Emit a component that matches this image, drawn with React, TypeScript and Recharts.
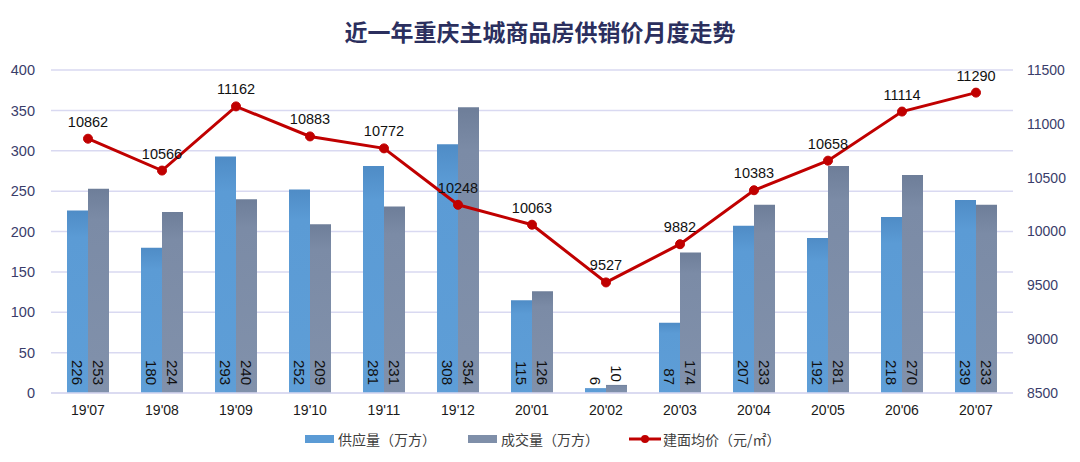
import React from "react";
import {
  ComposedChart,
  Bar,
  Line,
  XAxis,
  YAxis,
  CartesianGrid,
  LabelList,
  Legend,
} from "recharts";

const months = ["19'07", "19'08", "19'09", "19'10", "19'11", "19'12", "20'01", "20'02", "20'03", "20'04", "20'05", "20'06", "20'07"];
const supply = [226, 180, 293, 252, 281, 308, 115, 6, 87, 207, 192, 218, 239];
const sales = [253, 224, 240, 209, 231, 354, 126, 10, 174, 233, 281, 270, 233];
const price = [10862, 10566, 11162, 10883, 10772, 10248, 10063, 9527, 9882, 10383, 10658, 11114, 11290];

const leftTicks = [0, 50, 100, 150, 200, 250, 300, 350, 400];
const rightTicks = [8500, 9000, 9500, 10000, 10500, 11000, 11500];

const data = months.map((m, i) => ({
  month: m,
  supply: supply[i],
  sales: sales[i],
  price: price[i],
}));

const FONT = "'Liberation Sans', Arial, sans-serif";
const CJK = "'Noto Sans CJK SC', 'Liberation Sans', sans-serif";

// vertical label at the bottom of each bar (reads top to bottom); goes above tiny bars
const BarValueLabel = (props: any) => {
  const { x, y, width, height, value } = props;
  const cx = x + width / 2;
  const top = Math.min(y, y + height);
  const bottom = Math.max(y, y + height);
  const textLen = String(value).length * 8.4;
  const end = bottom - top < textLen + 12 ? top - 3 : bottom - 8;
  return (
    <text
      x={cx}
      y={end}
      transform={`rotate(90, ${cx}, ${end})`}
      textAnchor="end"
      dominantBaseline="central"
      fontSize={15}
      fontFamily={FONT}
      fill="#111"
    >
      {value}
    </text>
  );
};

const LegendContent = () => (
  <div
    style={{
      height: 39,
      display: "flex",
      alignItems: "center",
      paddingLeft: 305,
      paddingBottom: 8,
      boxSizing: "border-box",
      fontFamily: CJK,
      fontSize: 14,
      color: "#404040",
    }}
  >
    <span style={{ display: "inline-block", width: 29, height: 8, background: "#5B9BD5", marginRight: 4 }} />
    <span style={{ marginRight: 32 }}>供应量（万方）</span>
    <span style={{ display: "inline-block", width: 29, height: 8, background: "#7F8FA9", marginRight: 4 }} />
    <span style={{ marginRight: 30 }}>成交量（万方）</span>
    <svg width={32} height={12} style={{ marginRight: 2 }}>
      <line x1={0} y1={6} x2={32} y2={6} stroke="#C00000" strokeWidth={3} />
      <circle cx={16} cy={6} r={4} fill="#C00000" />
    </svg>
    <span>建面均价（元/㎡）</span>
  </div>
);

export default function App() {
  return (
    <div style={{ position: "absolute", left: 0, top: 0, width: 1080, height: 462, background: "#fff" }}>
      <div
        style={{
          position: "absolute",
          left: 0,
          top: 14,
          width: 1080,
          textAlign: "center",
          fontFamily: CJK,
          fontWeight: 700,
          fontSize: 23,
          color: "#2B2F5E",
          lineHeight: "34px",
        }}
      >
        近一年重庆主城商品房供销价月度走势
      </div>
      <ComposedChart
        width={1080}
        height={462}
        data={data}
        margin={{ top: 70, right: 0, left: 0, bottom: 0 }}
        barGap={0}
        barSize={21}
      >
        <defs>
          <linearGradient id="supplyGrad" x1="0" y1="0" x2="0" y2="1">
            <stop offset="0%" stopColor="#4F8CC6" />
            <stop offset="15%" stopColor="#5B9BD5" />
            <stop offset="100%" stopColor="#5E9ED7" />
          </linearGradient>
          <linearGradient id="salesGrad" x1="0" y1="0" x2="0" y2="1">
            <stop offset="0%" stopColor="#6E7E99" />
            <stop offset="15%" stopColor="#7B8BA6" />
            <stop offset="100%" stopColor="#8191AB" />
          </linearGradient>
        </defs>
        <CartesianGrid yAxisId="left" vertical={false} stroke="#D9D9F1" strokeWidth={1.5} />
        <XAxis
          dataKey="month"
          height={30}
          axisLine={{ stroke: "#D9D9F1", strokeWidth: 1.5 }}
          tickLine={false}
          tick={{ fontSize: 14, fontFamily: FONT, fill: "#1a1a1a" }}
          tickMargin={6}
          interval={0}
        />
        <YAxis
          yAxisId="left"
          orientation="left"
          width={51}
          domain={[0, 400]}
          ticks={leftTicks}
          axisLine={false}
          tickLine={false}
          tickMargin={10}
          tick={{ fontSize: 14.5, fontFamily: FONT, fill: "#3A3D6A" }}
        />
        <YAxis
          yAxisId="right"
          orientation="right"
          width={67}
          domain={[8500, 11500]}
          ticks={rightTicks}
          axisLine={false}
          tickLine={false}
          tickMargin={8}
          tick={{ fontSize: 14, fontFamily: FONT, fill: "#3A3D6A" }}
        />
        <Legend verticalAlign="bottom" content={<LegendContent />} />
        <Bar yAxisId="left" dataKey="supply" name="供应量（万方）" fill="url(#supplyGrad)" isAnimationActive={false}>
          <LabelList dataKey="supply" content={<BarValueLabel />} />
        </Bar>
        <Bar yAxisId="left" dataKey="sales" name="成交量（万方）" fill="url(#salesGrad)" isAnimationActive={false}>
          <LabelList dataKey="sales" content={<BarValueLabel />} />
        </Bar>
        <Line
          yAxisId="right"
          dataKey="price"
          name="建面均价（元/㎡）"
          type="linear"
          stroke="#C00000"
          strokeWidth={3}
          dot={{ r: 4.5, fill: "#C00000", stroke: "#C00000", strokeWidth: 1 }}
          isAnimationActive={false}
        >
          <LabelList dataKey="price" position="top" offset={12} fontSize={14.5} fontFamily={FONT} fill="#111" />
        </Line>
      </ComposedChart>
    </div>
  );
}
